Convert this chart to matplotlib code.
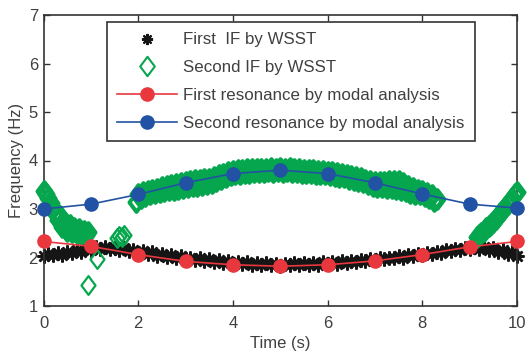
import numpy as np
import matplotlib
matplotlib.use("Agg")
import matplotlib.pyplot as plt
from matplotlib.path import Path

plt.rcParams['font.family'] = ['Liberation Sans', 'DejaVu Sans']

# ---------------- data ----------------
# modal analysis resonances (sampled every second)
modal_t = [0, 1, 2, 3, 4, 5, 6, 7, 8, 9, 10]
first_res = [2.33, 2.23, 2.06, 1.92, 1.85, 1.82, 1.85, 1.93, 2.06, 2.22, 2.33]
second_res = [3.00, 3.10, 3.30, 3.54, 3.73, 3.80, 3.73, 3.54, 3.31, 3.10, 3.02]

# first instantaneous frequency by WSST (0 .. 10 s, every 0.1 s)
if1_t = np.linspace(0.0, 10.0, 101)
if1_f = [2.03, 2.08, 2.05, 2.10, 2.06, 2.12, 2.09, 2.15, 2.12, 2.19,
         2.16, 2.22, 2.18, 2.22, 2.17, 2.20, 2.15, 2.19, 2.13, 2.16,
         2.10, 2.14, 2.07, 2.11, 2.04, 2.08, 2.01, 2.05, 1.99, 2.03,
         1.96, 2.00, 1.94, 1.98, 1.92, 1.96, 1.90, 1.94, 1.89, 1.93,
         1.87, 1.91, 1.86, 1.90, 1.85, 1.89, 1.84, 1.88, 1.84, 1.87,
         1.83, 1.87, 1.84, 1.88, 1.84, 1.88, 1.85, 1.89, 1.85, 1.90,
         1.86, 1.90, 1.87, 1.92, 1.89, 1.93, 1.90, 1.95, 1.92, 1.97,
         1.94, 1.98, 1.96, 2.00, 1.98, 2.03, 2.00, 2.05, 2.03, 2.07,
         2.05, 2.10, 2.08, 2.12, 2.10, 2.15, 2.13, 2.18, 2.15, 2.20,
         2.17, 2.22, 2.18, 2.22, 2.16, 2.20, 2.12, 2.15, 2.08, 2.11,
         2.04]

# second instantaneous frequency by WSST
if2a_t = np.linspace(0.0, 0.95, 20)
if2a_f = [3.38, 3.30, 3.22, 3.12, 3.02, 2.92, 2.78, 2.86, 2.62, 2.72,
          2.55, 2.66, 2.52, 2.60, 2.50, 2.58, 2.48, 2.55, 2.47, 2.52]

if2b_t = [0.94, 1.13, 1.55, 1.60, 1.65, 1.70]
if2b_f = [1.43, 1.96, 2.40, 2.44, 2.42, 2.46]

if2c_t = np.linspace(1.95, 8.30, 128)
if2c_f = [3.14, 3.30, 3.22, 3.36, 3.26, 3.38, 3.30, 3.40, 3.32, 3.42,
          3.36, 3.46, 3.38, 3.48, 3.40, 3.50, 3.40, 3.52, 3.42, 3.54,
          3.44, 3.56, 3.46, 3.58, 3.48, 3.60, 3.48, 3.60, 3.50, 3.62,
          3.52, 3.62, 3.54, 3.66, 3.58, 3.70, 3.62, 3.72, 3.66, 3.76,
          3.70, 3.78, 3.72, 3.80, 3.72, 3.80, 3.74, 3.82, 3.74, 3.82,
          3.76, 3.82, 3.77, 3.83, 3.76, 3.82, 3.78, 3.84, 3.77, 3.83,
          3.78, 3.84, 3.77, 3.83, 3.78, 3.84, 3.76, 3.82, 3.76, 3.82,
          3.75, 3.81, 3.74, 3.80, 3.74, 3.80, 3.73, 3.79, 3.72, 3.78,
          3.72, 3.77, 3.70, 3.76, 3.69, 3.74, 3.67, 3.72, 3.65, 3.70,
          3.62, 3.68, 3.60, 3.66, 3.58, 3.64, 3.56, 3.60, 3.52, 3.58,
          3.48, 3.56, 3.46, 3.55, 3.45, 3.56, 3.44, 3.57, 3.44, 3.58,
          3.42, 3.58, 3.40, 3.54, 3.38, 3.48, 3.34, 3.44, 3.31, 3.40,
          3.30, 3.38, 3.26, 3.34, 3.22, 3.28, 3.16, 3.20]

if2d_t = np.linspace(9.15, 10.0, 18)
if2d_f = [2.42, 2.46, 2.50, 2.55, 2.60, 2.64, 2.70, 2.74, 2.80,
          2.86, 2.92, 2.98, 3.05, 3.10, 3.17, 3.22, 3.30, 3.36]

labels = ['First  IF by WSST', 'Second IF by WSST',
          'First resonance by modal analysis',
          'Second resonance by modal analysis']
x_ticks = [0, 2, 4, 6, 8, 10]
y_ticks = [1, 2, 3, 4, 5, 6, 7]

# ---------------- style ----------------
BLACK = '#151515'
GREEN = '#06A64E'
RED = '#E8383E'
BLUE = '#2152A3'
AXC = '#333333'
TXC = '#404040'

diamond = Path([(0, 1), (0.75, 0), (0, -1), (-0.75, 0), (0, 1)],
               [Path.MOVETO, Path.LINETO, Path.LINETO, Path.LINETO, Path.CLOSEPOLY])
asterisk = (8, 2, 0)

fig = plt.figure(figsize=(5.27, 3.53), dpi=100)
ax = fig.add_axes([43.5 / 527, 1 - 306 / 353, (517 - 43.5) / 527, (306 - 15) / 353])

h1, = ax.plot(if1_t, if1_f, linestyle='none', marker=asterisk, ms=10,
              mew=1.8, color=BLACK, clip_on=False, zorder=2)
# dense parts of the second IF (overlapping diamonds form a solid band)
for tt, ff in [(if2a_t, if2a_f), (if2c_t, if2c_f), (if2d_t, if2d_f)]:
    ax.plot(tt, ff, linestyle='none', marker=diamond, ms=13.5,
            mfc='none', mec=GREEN, mew=2.9, clip_on=False, zorder=3)
# isolated diamonds
ax.plot(if2b_t, if2b_f, linestyle='none', marker=diamond, ms=13.5,
        mfc='none', mec=GREEN, mew=1.6, clip_on=False, zorder=3)
h3, = ax.plot(modal_t, first_res, '-', color=RED, lw=1.2, marker='o',
              ms=9.5, mfc=RED, mec=RED, clip_on=False, zorder=4)
h4, = ax.plot(modal_t, second_res, '-', color=BLUE, lw=1.2, marker='o',
              ms=9.5, mfc=BLUE, mec=BLUE, clip_on=False, zorder=5)

ax.set_xlim(0, 10)
ax.set_ylim(1, 7)
ax.set_xticks(x_ticks)
ax.set_yticks(y_ticks)
ax.tick_params(direction='in', length=4, width=1.0, colors=AXC,
               labelcolor=TXC, labelsize=12, top=True, right=True)
ax.tick_params(axis='x', pad=7)
ax.tick_params(axis='y', pad=4)
for s in ax.spines.values():
    s.set_color(AXC)
    s.set_linewidth(1.2)
ax.set_xlabel('Time (s)', fontsize=12, color=TXC, labelpad=4)
ax.set_ylabel('Frequency (Hz)', fontsize=12, color=TXC, labelpad=3)

# legend handles: markers as in the reference legend
lh1, = ax.plot([], [], linestyle='none', marker=asterisk, ms=8, mew=1.5, color=BLACK)
lh2, = ax.plot([], [], linestyle='none', marker=diamond, ms=14, mfc='none',
               mec=GREEN, mew=1.5)
leg = ax.legend([lh1, lh2, h3, h4], labels, loc='upper left',
                bbox_to_anchor=(0.134, 0.976), borderaxespad=0,
                fontsize=12.2, handlelength=3.5, handletextpad=0.35,
                labelspacing=0.75, borderpad=0.62, fancybox=False,
                framealpha=1, edgecolor=AXC)
leg.get_frame().set_linewidth(1.2)
for t in leg.get_texts():
    t.set_color(TXC)

fig.savefig('out.png', dpi=100)
